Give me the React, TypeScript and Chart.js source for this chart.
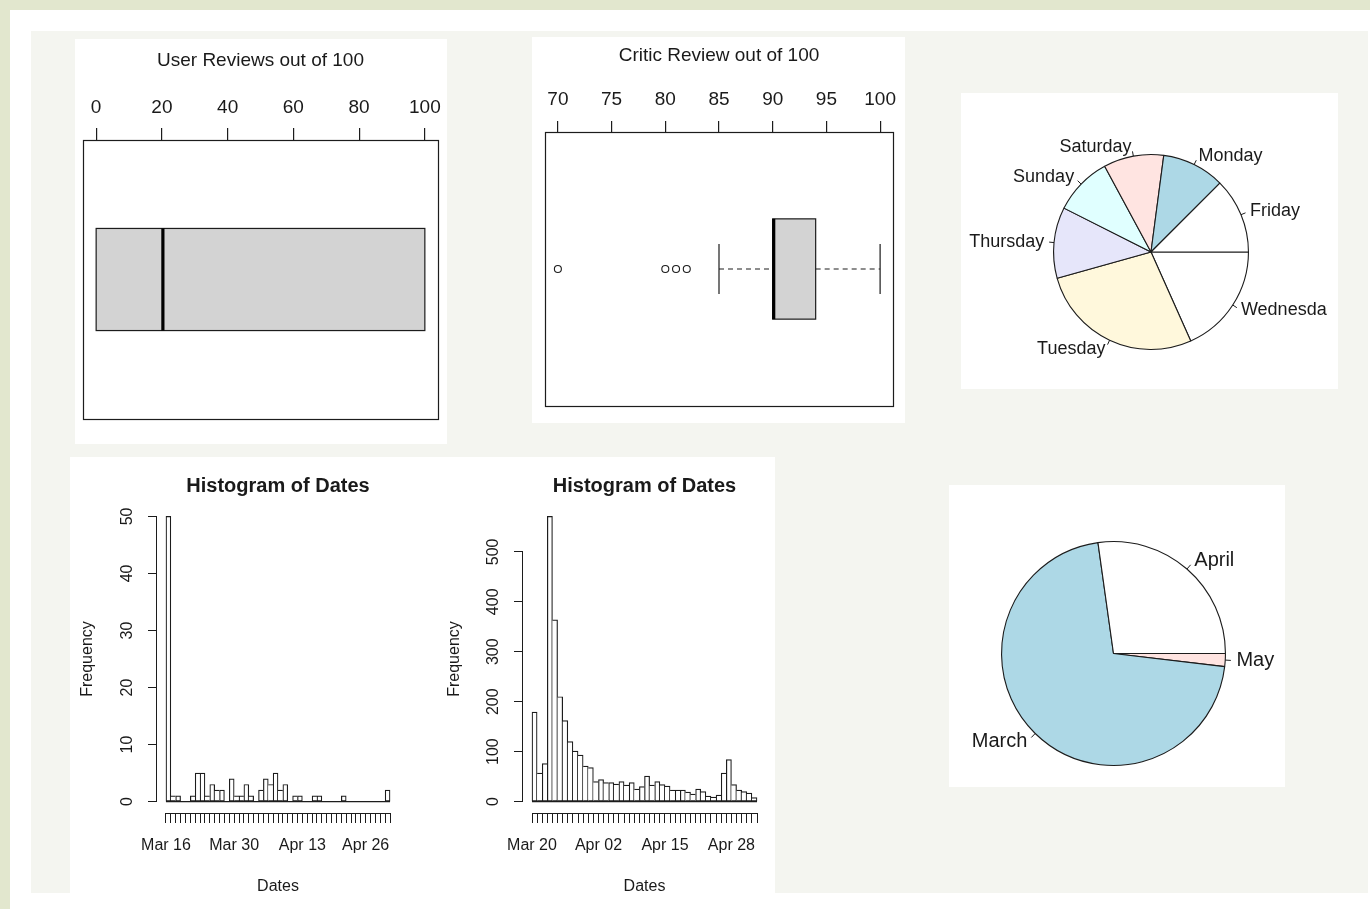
import React, { useEffect, useRef } from 'react';
import { Chart, registerables } from 'chart.js';

Chart.register(...registerables);

const FONT = '"Liberation Sans", Arial, Helvetica, sans-serif';
const INK = '#1a1a1a';
const LINE = '#1c1c1c';
Chart.defaults.font.family = FONT;
Chart.defaults.color = INK;

// ---------------- data ----------------
const userTicks = [0, 20, 40, 60, 80, 100];
const userBox = [0, 0, 20, 100, 100]; // lower whisker, Q1, median, Q3, upper whisker
const userOutliers: number[] = [];

const criticTicks = [70, 75, 80, 85, 90, 95, 100];
const criticBox = [85, 90, 90, 94, 100];
const criticOutliers = [70, 80, 81, 82];

const dayNames = ['Friday', 'Monday', 'Saturday', 'Sunday', 'Thursday', 'Tuesday', 'Wednesday'];
const dayCounts = [381, 317, 304, 295, 359, 833, 558];
const monthNames = ['April', 'March', 'May'];
const monthCounts = [829, 2160, 57];
const pieColors = ['#FFFFFF', '#ADD8E6', '#FFE4E1', '#E0FFFF', '#E6E6FA', '#FFF8DC'];

const hist1Counts = [50, 1, 1, 0, 0, 1, 5, 5, 1, 3, 2, 2, 0, 4, 1, 1, 3, 1, 0, 2, 4, 3, 5, 2, 3, 0, 1, 1, 0, 0, 1, 1, 0, 0, 0, 0, 1, 0, 0, 0, 0, 0, 0, 0, 0, 2];
const hist1TickDays = [0, 14, 28, 41];
const hist1TickLabels = ['Mar 16', 'Mar 30', 'Apr 13', 'Apr 26'];
const hist1YTicks = [0, 10, 20, 30, 40, 50];

const hist2Counts = [179, 57, 76, 571, 364, 210, 162, 120, 101, 93, 71, 68, 40, 44, 38, 38, 35, 40, 33, 38, 25, 30, 51, 33, 40, 34, 31, 23, 23, 23, 19, 15, 25, 20, 11, 9, 13, 57, 84, 34, 23, 20, 17, 8];
const hist2TickDays = [0, 13, 26, 39];
const hist2TickLabels = ['Mar 20', 'Apr 02', 'Apr 15', 'Apr 28'];
const hist2YTicks = [0, 100, 200, 300, 400, 500];

// ---------------- plugins ----------------
const framePlugin = {
  id: 'rframe',
  afterDraw(chart: any) {
    const { ctx, chartArea: a } = chart;
    ctx.save();
    ctx.strokeStyle = LINE;
    ctx.lineWidth = 1.2;
    ctx.strokeRect(Math.round(a.left) + 0.5, Math.round(a.top) + 0.5, Math.round(a.right - a.left), Math.round(a.bottom - a.top));
    ctx.restore();
  },
};

const makeBoxPlugin = (stats: number[]) => ({
  id: 'rbox',
  beforeDatasetsDraw(chart: any) {
    const { ctx, scales } = chart;
    const xs = scales.x, ys = scales.y;
    const px = (v: number) => xs.getPixelForValue(v);
    const py = (v: number) => ys.getPixelForValue(v);
    const [lo, q1, med, q3, hi] = stats;
    const yTop = py(0.683), yBot = py(0.317), yMid = py(0.5);
    const sTop = py(0.5915), sBot = py(0.4085);
    const ln = (x1: number, y1: number, x2: number, y2: number) => {
      ctx.beginPath(); ctx.moveTo(x1, y1); ctx.lineTo(x2, y2); ctx.stroke();
    };
    ctx.save();
    ctx.strokeStyle = LINE;
    ctx.lineWidth = 1.2;
    ctx.setLineDash([5, 4]);
    if (q1 > lo) ln(px(lo), yMid, px(q1), yMid);
    if (hi > q3) ln(px(q3), yMid, px(hi), yMid);
    ctx.setLineDash([]);
    if (q1 > lo) ln(px(lo), sTop, px(lo), sBot);
    if (hi > q3) ln(px(hi), sTop, px(hi), sBot);
    ctx.fillStyle = '#d3d3d3';
    ctx.fillRect(px(q1), yTop, px(q3) - px(q1), yBot - yTop);
    ctx.strokeRect(px(q1), yTop, px(q3) - px(q1), yBot - yTop);
    ctx.lineWidth = 3.2;
    ctx.strokeStyle = '#000';
    ln(px(med) + 1, yTop, px(med) + 1, yBot);
    ctx.restore();
  },
});

const histAxisPlugin = {
  id: 'raxis',
  afterDraw(chart: any) {
    const { ctx, chartArea: a, scales } = chart;
    const xt = scales.x.ticks, yt = scales.y.ticks;
    const x0 = scales.x.getPixelForValue(xt[0].value);
    const x1 = scales.x.getPixelForValue(xt[xt.length - 1].value);
    ctx.save();
    ctx.strokeStyle = LINE;
    ctx.lineWidth = 1.2;
    // zero line under the bars (empty bins)
    const y0 = scales.y.getPixelForValue(0);
    ctx.beginPath();
    ctx.moveTo(x0, y0);
    ctx.lineTo(x1, y0);
    ctx.stroke();
    ctx.lineWidth = 1;
    const yb = Math.round(a.bottom) + 0.5;
    ctx.beginPath();
    ctx.moveTo(x0, yb);
    ctx.lineTo(x1, yb);
    ctx.stroke();
    const xl = Math.round(a.left) - 0.5;
    ctx.beginPath();
    ctx.moveTo(xl, scales.y.getPixelForValue(yt[0].value));
    ctx.lineTo(xl, scales.y.getPixelForValue(yt[yt.length - 1].value));
    ctx.stroke();
    ctx.restore();
  },
};

const makePieLabelPlugin = (size: number) => ({
  id: 'rpielabels',
  afterDatasetsDraw(chart: any) {
    const { ctx } = chart;
    const meta = chart.getDatasetMeta(0);
    ctx.save();
    ctx.font = `${size}px ${FONT}`;
    ctx.fillStyle = INK;
    ctx.strokeStyle = LINE;
    ctx.lineWidth = 1;
    ctx.textBaseline = 'middle';
    meta.data.forEach((arc: any, i: number) => {
      const { x, y, startAngle, endAngle, outerRadius } = arc.getProps(['x', 'y', 'startAngle', 'endAngle', 'outerRadius'], true);
      const mid = (startAngle + endAngle) / 2;
      const c = Math.cos(mid), s = Math.sin(mid);
      ctx.beginPath();
      ctx.moveTo(x + c * outerRadius, y + s * outerRadius);
      ctx.lineTo(x + c * outerRadius * 1.05, y + s * outerRadius * 1.05);
      ctx.stroke();
      ctx.textAlign = c < 0 ? 'right' : 'left';
      ctx.fillText(chart.data.labels[i], x + c * outerRadius * 1.1, y + s * outerRadius * 1.1);
    });
    ctx.restore();
  },
});

// ---------------- config builders ----------------
function boxConfig(stats: number[], outliers: number[], ticks: number[], min: number, max: number, title: string,
  pad: { left: number; right: number; bottom: number }, axisHeight: number, titlePad: number, tickLen: number, tickPad: number) {
  return {
    type: 'scatter',
    data: {
      datasets: [{
        data: outliers.map((v) => ({ x: v, y: 0.5 })),
        pointRadius: 3.5,
        pointHoverRadius: 3.5,
        pointBorderColor: LINE,
        pointBackgroundColor: 'rgba(0,0,0,0)',
        pointBorderWidth: 1.1,
      }],
    },
    options: {
      animation: false,
      responsive: true,
      maintainAspectRatio: false,
      events: [],
      layout: { padding: { left: pad.left, right: pad.right, top: 0, bottom: pad.bottom } },
      plugins: { legend: { display: false }, tooltip: { enabled: false } },
      scales: {
        x: {
          type: 'linear',
          position: 'top',
          min,
          max,
          afterBuildTicks: (s: any) => { s.ticks = ticks.map((v) => ({ value: v })); },
          afterFit: (s: any) => { s.height = axisHeight; s.paddingLeft = 0; s.paddingRight = 0; },
          grid: { drawOnChartArea: false, drawTicks: true, tickLength: tickLen, color: LINE, tickColor: LINE, lineWidth: 1.2 },
          border: { display: false },
          ticks: { autoSkip: false, maxRotation: 0, padding: tickPad, font: { size: 19 }, color: INK, callback: (v: any) => String(v) },
          title: { display: true, text: title, font: { size: 19 }, color: INK, padding: { top: titlePad, bottom: 0 } },
        },
        y: { type: 'linear', min: 0, max: 1, display: false },
      },
    },
    plugins: [makeBoxPlugin(stats), framePlugin],
  };
}

function histConfig(counts: number[], tickDays: number[], tickLabels: string[], yTicks: number[], yMax: number,
  yAxisWidth: number, padRight: number, yTickPad: number) {
  const n = counts.length;
  const xExt = n * 0.04;
  const yExt = yMax * 0.04;
  return {
    type: 'bar',
    data: {
      datasets: [{
        data: counts.map((c, i) => ({ x: i + 0.5, y: c })),
        backgroundColor: '#ffffff',
        borderColor: LINE,
        borderSkipped: false,
        barPercentage: 1,
        categoryPercentage: 1,
        borderWidth: (ctx: any) => {
          const i = ctx.dataIndex;
          const w = 1.2;
          return {
            top: w,
            bottom: w,
            left: i === 0 || counts[i - 1] <= counts[i] ? w : 0,
            right: i === n - 1 || counts[i + 1] < counts[i] ? w : 0,
          };
        },
      }],
    },
    options: {
      animation: false,
      responsive: true,
      maintainAspectRatio: false,
      events: [],
      layout: { padding: { left: 0, right: padRight, top: 0, bottom: 0 } },
      plugins: {
        legend: { display: false },
        tooltip: { enabled: false },
        title: {
          display: true,
          text: 'Histogram of Dates',
          fullSize: false,
          font: { size: 20, weight: 'bold' },
          color: INK,
          padding: { top: 17, bottom: 7 },
        },
      },
      scales: {
        x: {
          type: 'linear',
          offset: false,
          min: -xExt,
          max: n + xExt,
          afterBuildTicks: (s: any) => {
            s.ticks = counts.map((_, i) => ({ value: i })).concat([{ value: n }]);
          },
          afterFit: (s: any) => { s.height = 80; s.paddingLeft = 0; s.paddingRight = 0; },
          grid: { offset: false, drawOnChartArea: false, drawTicks: true, tickLength: 10, color: LINE, tickColor: LINE },
          border: { display: false },
          ticks: {
            autoSkip: false,
            maxRotation: 0,
            minRotation: 0,
            padding: 13,
            font: { size: 16 },
            color: INK,
            callback: (v: any) => {
              const k = tickDays.indexOf(Number(v));
              return k >= 0 ? tickLabels[k] : '';
            },
          },
          title: { display: true, text: 'Dates', font: { size: 16, lineHeight: 0.75 }, color: INK, padding: { top: 0, bottom: 0 } },
        },
        y: {
          type: 'linear',
          min: -yExt,
          max: yMax + yExt,
          afterBuildTicks: (s: any) => { s.ticks = yTicks.map((v) => ({ value: v })); },
          afterFit: (s: any) => { s.width = yAxisWidth; },
          grid: { drawOnChartArea: false, drawTicks: true, tickLength: 9, color: LINE, tickColor: LINE },
          border: { display: false },
          ticks: {
            autoSkip: false,
            minRotation: 90,
            maxRotation: 90,
            crossAlign: 'center',
            padding: yTickPad,
            font: { size: 16 },
            color: INK,
            callback: (v: any) => String(v),
          },
          title: { display: true, text: 'Frequency', font: { size: 16, lineHeight: 1 }, color: INK, padding: { top: 10, bottom: 0 } },
        },
      },
    },
    plugins: [histAxisPlugin],
  };
}

function pieConfig(names: string[], counts: number[], labelSize: number, pad: { left: number; right: number; top: number; bottom: number }) {
  // R draws counter-clockwise from 3 o'clock; Chart.js draws clockwise, so reverse the order.
  const idx = names.map((_, i) => i).reverse();
  return {
    type: 'pie',
    data: {
      labels: idx.map((i) => names[i]),
      datasets: [{
        data: idx.map((i) => counts[i]),
        backgroundColor: idx.map((i) => pieColors[i % pieColors.length]),
        borderColor: LINE,
        borderWidth: 1.1,
      }],
    },
    options: {
      animation: false,
      responsive: true,
      maintainAspectRatio: false,
      events: [],
      rotation: 90,
      layout: { padding: pad },
      plugins: { legend: { display: false }, tooltip: { enabled: false } },
    },
    plugins: [makePieLabelPlugin(labelSize)],
  };
}

// ---------------- components ----------------
function ChartCanvas({ make, left, top, width, height }: { make: () => any; left: number; top: number; width: number; height: number }) {
  const ref = useRef<HTMLCanvasElement>(null);
  useEffect(() => {
    const chart = new Chart(ref.current as HTMLCanvasElement, make());
    return () => chart.destroy();
  }, []);
  return (
    <div style={{ position: 'absolute', left, top, width, height, overflow: 'hidden' }}>
      <canvas ref={ref} style={{ display: 'block' }} />
    </div>
  );
}

function Panel({ x, y, w, h, children }: { x: number; y: number; w: number; h: number; children?: any }) {
  return <div style={{ position: 'absolute', left: x, top: y, width: w, height: h, background: '#ffffff' }}>{children}</div>;
}

export default function App() {
  return (
    <div style={{ position: 'absolute', left: 0, top: 0, width: 1370, height: 909, overflow: 'hidden', background: '#e2e7ce', fontFamily: FONT }}>
      <div style={{ position: 'absolute', left: 10, top: 10, width: 1360, height: 899, background: '#ffffff' }} />
      <div style={{ position: 'absolute', left: 31, top: 31, width: 1337, height: 862, background: '#f4f5f0' }} />

      <Panel x={75} y={39} w={372} h={405}>
        <ChartCanvas left={0} top={0} width={372} height={405}
          make={() => boxConfig(userBox, userOutliers, userTicks, -4, 104, 'User Reviews out of 100',
            { left: 8, right: 9, bottom: 25 }, 101, 10.6, 12, 8.6)} />
      </Panel>

      <Panel x={532} y={37} w={373} h={386}>
        <ChartCanvas left={0} top={0} width={373} height={386}
          make={() => boxConfig(criticBox, criticOutliers, criticTicks, 68.8, 101.2, 'Critic Review out of 100',
            { left: 13, right: 12, bottom: 17 }, 95, 7, 11, 9.6)} />
      </Panel>

      <Panel x={961} y={93} w={377} h={296}>
        <ChartCanvas left={0} top={0} width={366} height={296}
          make={() => pieConfig(dayNames, dayCounts, 18, { left: 92, right: 78, top: 61, bottom: 39 })} />
      </Panel>

      <Panel x={70} y={457} w={705} h={436}>
        <ChartCanvas left={0} top={0} width={367} height={436}
          make={() => histConfig(hist1Counts, hist1TickDays, hist1TickLabels, hist1YTicks, 50, 87, 38, 12)} />
        <ChartCanvas left={367} top={0} width={338} height={436}
          make={() => histConfig(hist2Counts, hist2TickDays, hist2TickLabels, hist2YTicks, 571, 86, 9, 6.7)} />
      </Panel>

      <Panel x={949} y={485} w={336} h={302}>
        <ChartCanvas left={0} top={0} width={336} height={302}
          make={() => pieConfig(monthNames, monthCounts, 20, { left: 52, right: 59, top: 56, bottom: 21 })} />
      </Panel>
    </div>
  );
}
